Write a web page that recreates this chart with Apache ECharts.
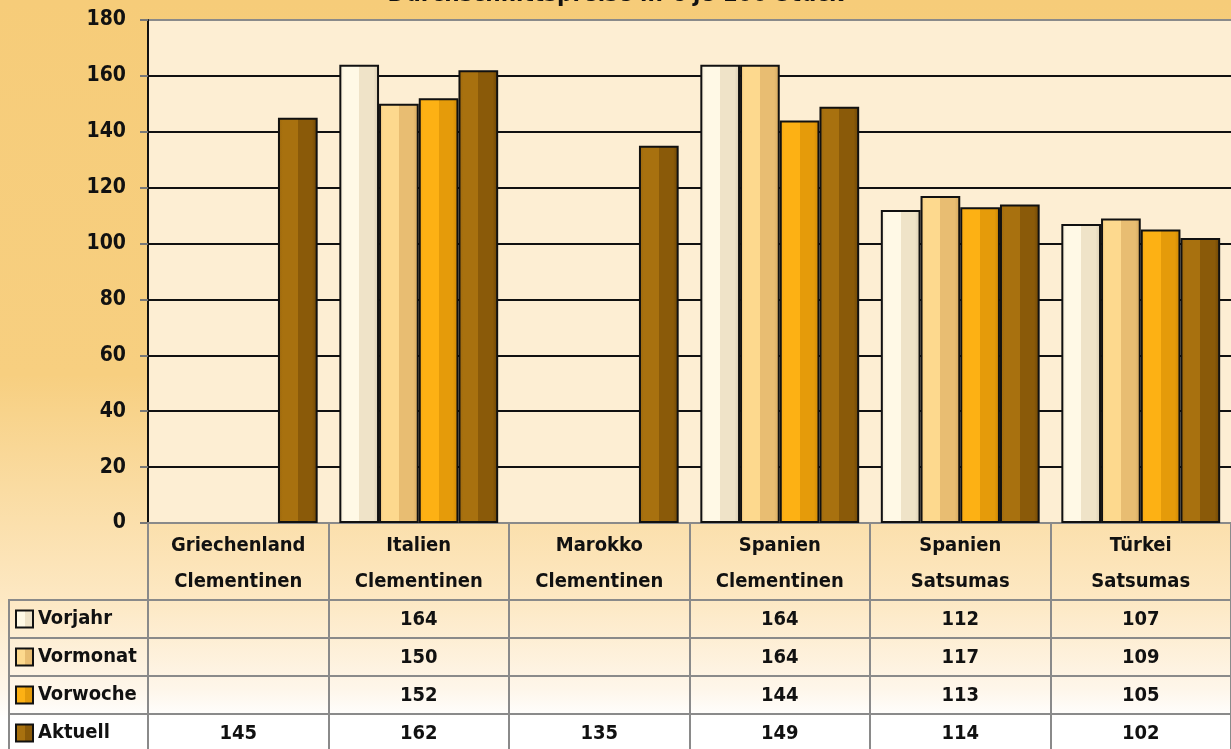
<!DOCTYPE html>
<html>
<head>
<meta charset="utf-8">
<script src="https://cdn.jsdelivr.net/npm/echarts@6/dist/echarts.min.js"></script>
<style>
  html, body { margin: 0; padding: 0; }
  #chart { width: 1231px; height: 749px; }
</style>
</head>
<body>
<div id="chart"></div>
<script>
const FONT = '"DejaVu Sans Condensed", "Noto Sans", sans-serif'

// Daten
const categories = ['Griechenland\nClementinen', 'Italien\nClementinen', 'Marokko\nClementinen', 'Spanien\nClementinen', 'Spanien\nSatsumas', 'Türkei\nSatsumas']
const seriesNames = ['Vorjahr', 'Vormonat', 'Vorwoche', 'Aktuell']
const vorjahr = [null, 164, null, 164, 112, 107]
const vormonat = [null, 150, null, 164, 117, 109]
const vorwoche = [null, 152, null, 144, 113, 105]
const aktuell = [145, 162, 135, 149, 114, 102]
const yTicks = { min: 0, max: 180, interval: 20 }

const rows = [vorjahr, vormonat, vorwoche, aktuell]

// Farben (Kante, hell, dunkel, Kante) für Facetten-Effekt
const barColors = [
  ['#efe6d0', '#fff9e6', '#efe3c8', '#d8cbb0'],
  ['#f6cd80', '#fdd98e', '#e8bd72', '#d3a65c'],
  ['#f3a510', '#fdb114', '#e59b0a', '#c98404'],
  ['#9a660c', '#a8710f', '#8a5a09', '#6b4405']
]
function facet(c) {
  return {
    type: 'linear', x: 0, y: 0, x2: 1, y2: 0,
    colorStops: [
      { offset: 0, color: c[0] }, { offset: 0.12, color: c[1] },
      { offset: 0.5, color: c[1] }, { offset: 0.5, color: c[2] },
      { offset: 0.86, color: c[2] }, { offset: 1, color: c[3] }
    ]
  }
}

const ROW_H = 38
const HEAD_H = 77

const tableAxes = rows.map((r, k) => ({
  type: 'category',
  data: categories,
  position: 'bottom',
  offset: HEAD_H + ROW_H * k,
  axisLine: { show: true, lineStyle: { color: '#8a8a8a', width: 2 } },
  axisTick: { show: false },
  axisLabel: {
    interval: 0, margin: 10,
    fontFamily: FONT, fontSize: 20, fontWeight: 'bold', color: '#111',
    formatter: (v, i) => r[i] == null ? '' : String(r[i])
  }
}))

const leftLines = []
for (let k = 0; k < 4; k++) {
  const y = 523 + HEAD_H + ROW_H * k
  leftLines.push({ type: 'line', shape: { x1: 8, y1: y, x2: 148, y2: y }, style: { stroke: '#8a8a8a', lineWidth: 2 } })
}
leftLines.push({ type: 'line', shape: { x1: 9, y1: 600, x2: 9, y2: 749 }, style: { stroke: '#8a8a8a', lineWidth: 2 } })

const chart = echarts.init(document.getElementById('chart'))
chart.setOption({
  backgroundColor: {
    type: 'linear', x: 0, y: 0, x2: 0, y2: 1,
    colorStops: [
      { offset: 0, color: '#f6cc79' },
      { offset: 0.5, color: '#f7cf80' },
      { offset: 0.8, color: '#fde8c3' },
      { offset: 0.92, color: '#fef6ea' },
      { offset: 0.96, color: '#ffffff' },
      { offset: 1, color: '#ffffff' }
    ]
  },
  animation: false,
  title: {
    text: 'Durchschnittspreise in € je 100 Stück',
    left: 'center', top: -22,
    textStyle: { fontFamily: FONT, fontSize: 24, fontWeight: 'bold', color: '#111' }
  },
  legend: {
    orient: 'vertical', left: 15, top: 604, padding: 0, itemGap: 8,
    itemWidth: 17, itemHeight: 17, icon: 'rect',
    itemStyle: { borderColor: '#111', borderWidth: 2 },
    textStyle: { fontFamily: FONT, fontSize: 20, fontWeight: 'bold', color: '#111', lineHeight: 30 },
    data: seriesNames
  },
  grid: { left: 148, right: 0, top: 20, bottom: 226, show: true, backgroundColor: '#fdeed3', borderWidth: 0 },
  xAxis: [{
    type: 'category',
    data: categories,
    position: 'bottom',
    axisLine: { show: true, lineStyle: { color: '#8a8a8a', width: 2 } },
    axisTick: { show: true, interval: 0, length: 226, lineStyle: { color: '#8a8a8a', width: 2 } },
    axisLabel: { interval: 0, margin: 5, lineHeight: 36, fontFamily: FONT, fontSize: 20, fontWeight: 'bold', color: '#111' }
  }].concat(tableAxes),
  yAxis: {
    type: 'value',
    min: yTicks.min, max: yTicks.max, interval: yTicks.interval,
    axisLine: { show: true, lineStyle: { color: '#111', width: 2 } },
    axisTick: { show: true, length: 8, lineStyle: { color: '#777', width: 2 } },
    axisLabel: { margin: 22, fontFamily: FONT, fontSize: 21, fontWeight: 'bold', color: '#111' },
    splitLine: { show: true, lineStyle: { width: 2, color: ['#8a8a8a', '#111', '#111', '#111', '#111', '#111', '#111', '#111', '#111', '#8a8a8a'] } }
  },
  graphic: leftLines,
  series: rows.map((r, k) => ({
    name: seriesNames[k],
    type: 'bar',
    data: r,
    barGap: '0%',
    barCategoryGap: '12%',
    itemStyle: { color: facet(barColors[k]), borderColor: '#111', borderWidth: 2 }
  }))
})
</script>
</body>
</html>
